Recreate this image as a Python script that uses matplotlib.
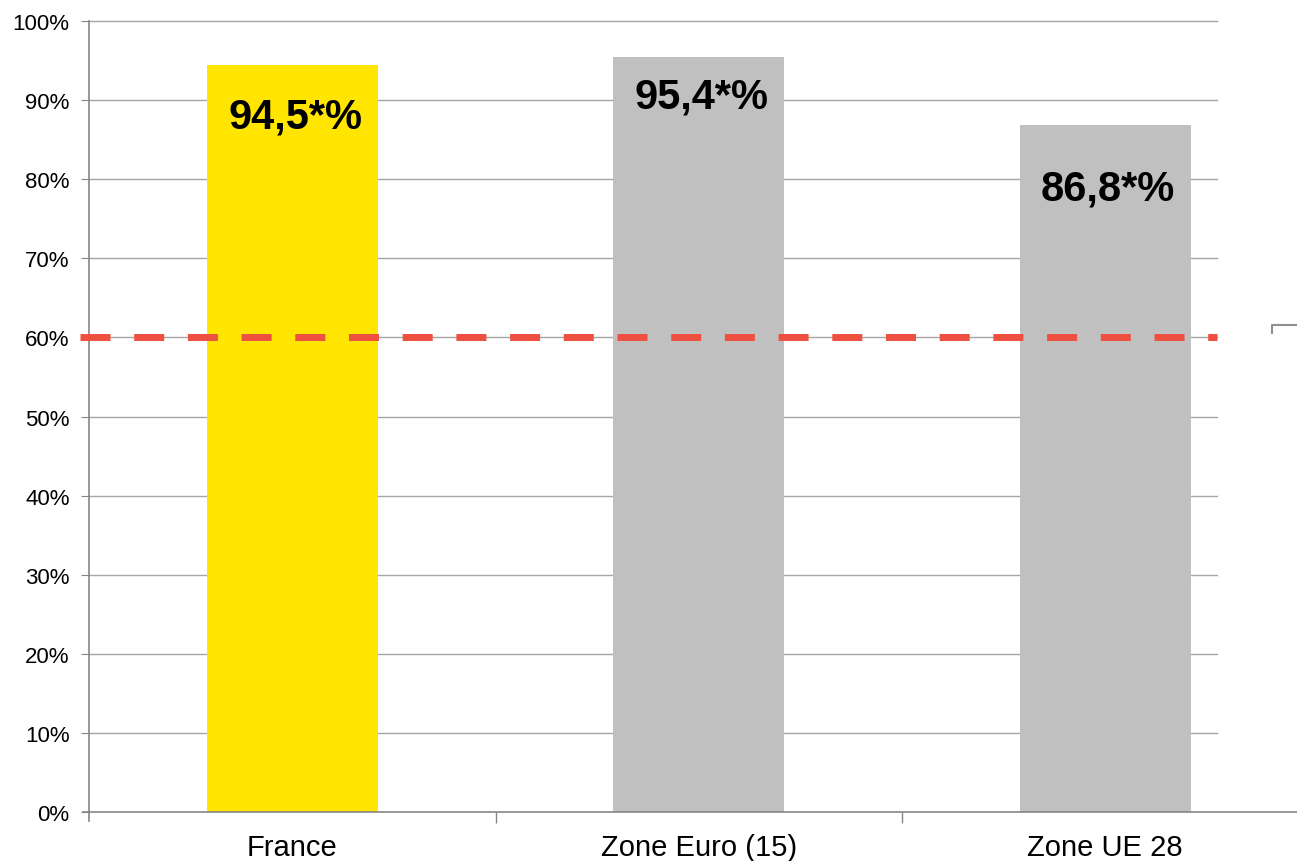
import numpy as np
import matplotlib
matplotlib.use("Agg")
import matplotlib.pyplot as plt
from matplotlib.lines import Line2D

plt.rcParams['font.family'] = ['Liberation Sans', 'DejaVu Sans']

#%% data
categories = ['France', 'Zone Euro (15)', 'Zone UE 28']
values = [94.4, 95.4, 86.8]
labels = ['94,5*%', '95,4*%', '86,8*%']
colors = ['#FFE500', '#C0C0C0', '#C0C0C0']
label_drop = [62, 50, 74]   # px below bar top (baseline)
threshold = 60
yticks = np.arange(0, 101, 10)

#%% figure
W, H = 1297, 862
fig = plt.figure(figsize=(W/100, H/100), dpi=100)
left, right, bottom, top = 89, 1217, 813, 22
ax = fig.add_axes([left/W, 1-bottom/H, (right-left)/W, (bottom-top)/H])

cat_w = 406.5
x = np.arange(len(categories))
ax.set_xlim(-0.5, -0.5 + (right-left)/cat_w)
ax.set_ylim(0, 100)

ax.bar(x, values, width=0.42, color=colors, zorder=2)

for xi, v, lab, d in zip(x, values, labels, label_drop):
    ax.annotate(lab, (xi, v), xytext=(2, -d*0.72), textcoords='offset points',
                ha='center', va='baseline', fontsize=30, fontweight='bold',
                color='black', zorder=4)

# threshold dashed line
ax.plot([-0.5 - 9/cat_w, ax.get_xlim()[1]], [threshold, threshold],
        color='#EF4F3F', lw=5, dashes=(30*0.72/5, 23.7*0.72/5),
        solid_capstyle='butt', dash_capstyle='butt', clip_on=False, zorder=3)

# grid
for t in yticks[1:]:
    ax.axhline(t, color='#A6A6A6', lw=1, zorder=1, clip_on=False)

for s in ['top', 'right', 'bottom']:
    ax.spines[s].set_visible(False)
ax.spines['left'].set_color('#868686')
ax.spines['left'].set_bounds(-1.2, 100)
ax.spines['left'].set_linewidth(1.2)

# x axis line running to the edge
ax.plot([-0.5 - 6/cat_w, 2.6], [0, 0], color='#868686', lw=1.2, clip_on=False, zorder=3)

ax.set_yticks(yticks)
ax.set_yticklabels([f'{t}%' for t in yticks], fontsize=16)
ax.tick_params(axis='y', direction='out', length=6, color='#868686', pad=8)

ax.set_xticks(x)
ax.set_xticklabels(categories, fontsize=21)
ax.tick_params(axis='x', length=0, pad=15)
ax.set_xticks([0.5, 1.5], minor=True)
ax.tick_params(axis='x', which='minor', direction='out', length=8, color='#868686', width=1)

# small leftover bracket at the right edge
fig.add_artist(Line2D([1272/W, 1272/W, 1.0], [1-334/H, 1-326/H, 1-326/H],
                      color='#909090', lw=1.5))

fig.savefig('out.png', dpi=100)
